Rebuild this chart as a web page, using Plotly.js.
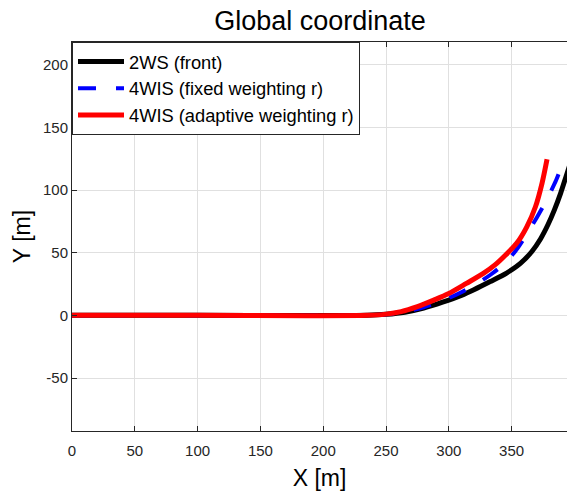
<!DOCTYPE html>
<html>
<head>
<meta charset="utf-8">
<script src="https://cdn.plot.ly/plotly-3.0.1.min.js"></script>
<style>html,body{margin:0;padding:0;background:#fff;}#chart{width:567px;height:491px;}</style>
</head>
<body>
<div id="chart"></div>
<script>
// Path data (X [m], Y [m])
var frontX = [0, 100, 235, 250, 265, 280, 295, 310, 320, 333, 346, 357, 366, 373, 379, 384, 389, 393.3, 397];
var frontY = [0, 0, 0, 0.8, 2.5, 5.8, 10.5, 16, 20.5, 27, 33.8, 41.5, 50.8, 61, 72.5, 84, 97.4, 110.7, 122];

var fixedX = [0, 100, 235, 250, 265, 280, 295, 310, 322, 334, 346, 355, 362.8, 370, 376, 380.3, 385.5, 389.6];
var fixedY = [0, 0, 0, 0.9, 2.8, 6.5, 11.7, 18.5, 25, 33, 43, 54, 66, 78, 88.5, 97, 108, 118.7];

var adaptX = [0, 100, 235, 250, 262, 275, 288, 300, 314, 327.5, 337, 344, 354, 362, 369, 374.2, 378.2];
var adaptY = [0, 0, 0, 1, 3, 7, 12.2, 17.5, 25.5, 33.5, 40.5, 47, 57.5, 70.5, 86.7, 105.4, 124.6];

var seriesNames = ['2WS (front)', '4WIS (fixed weighting r)', '4WIS (adaptive weighting r)'];
var xTicks = [0, 50, 100, 150, 200, 250, 300, 350];
var yTicks = [-50, 0, 50, 100, 150, 200];

var axisColor = '#262626';
var gridColor = '#e0e0e0';
var fontFam = '"Liberation Sans", Arial, Helvetica, sans-serif';

var traces = [
  {x: frontX, y: frontY, name: seriesNames[0], mode: 'lines', line: {color: '#000000', width: 5, shape: 'spline', smoothing: 0.8}},
  {x: fixedX, y: fixedY, name: seriesNames[1], mode: 'lines', line: {color: '#0000ff', width: 4, dash: '18px,20px', shape: 'spline', smoothing: 0.8}},
  {x: adaptX, y: adaptY, name: seriesNames[2], mode: 'lines', line: {color: '#ff0000', width: 5, shape: 'spline', smoothing: 0.8}}
];

var layout = {
  width: 567, height: 491,
  margin: {l: 72, r: 0, t: 42, b: 60, pad: 0},
  paper_bgcolor: '#ffffff', plot_bgcolor: '#ffffff',
  font: {family: fontFam, color: axisColor, size: 15},
  title: {text: 'Global coordinate', font: {family: fontFam, size: 27, color: '#000000'}, x: 0.5645, xanchor: 'center', y: 0.959, yanchor: 'middle'},
  showlegend: true,
  legend: {x: 0, y: 1, xanchor: 'left', yanchor: 'top', bgcolor: '#ffffff', bordercolor: axisColor, borderwidth: 1,
           font: {family: fontFam, size: 18.3, color: '#000000'}, itemwidth: 46, tracegroupgap: 0},
  xaxis: {
    range: [0, 394.1], tickvals: xTicks, ticktext: xTicks.map(String),
    showgrid: true, gridcolor: gridColor, gridwidth: 1, zeroline: false,
    showline: true, linecolor: axisColor, linewidth: 1, mirror: 'allticks',
    ticks: 'inside', ticklen: 5, tickcolor: axisColor, ticklabelstandoff: 6,
    tickfont: {family: fontFam, size: 15, color: axisColor},
    automargin: false,
    title: {text: 'X [m]', font: {family: fontFam, size: 23, color: '#000000'}, standoff: 18}
  },
  yaxis: {
    range: [-92.3, 218.2], tickvals: yTicks, ticktext: yTicks.map(String),
    showgrid: true, gridcolor: gridColor, gridwidth: 1, zeroline: false,
    showline: true, linecolor: axisColor, linewidth: 1, mirror: false,
    ticks: 'inside', ticklen: 5, tickcolor: axisColor,
    tickfont: {family: fontFam, size: 15, color: axisColor},
    automargin: false,
    title: {text: 'Y [m]', font: {family: fontFam, size: 23, color: '#000000'}, standoff: 5}
  }
};

Plotly.newPlot('chart', traces, layout, {displayModeBar: false, staticPlot: true});
</script>
</body>
</html>
